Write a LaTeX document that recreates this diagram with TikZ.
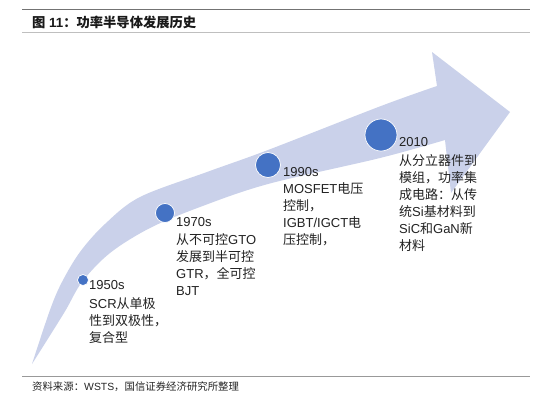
\documentclass[tikz,border=0pt]{standalone}
\usepackage{fontspec}
\setmainfont{Liberation Sans}
\newfontfamily\cjk{Noto Sans CJK SC}
\newcommand\zh[1]{{\cjk #1}}
\definecolor{bandc}{RGB}{202,209,234}
\definecolor{dotc}{RGB}{68,114,196}
\definecolor{txt}{RGB}{34,34,34}
\begin{document}
\begin{tikzpicture}[x=1pt,y=-1pt,
  dotn/.style={circle,fill=dotc,draw=white,line width=0.7pt,inner sep=0pt},
  desc/.style={anchor=north west,align=left,inner sep=0pt,text=txt,font=\fontsize{13}{17}\selectfont},
  rulel/.style={line width=0.8pt}]
\useasboundingbox (0,0) rectangle (550,400);
\fill[white] (0,0) rectangle (550,400);
% header
\coordinate (h1) at (22,9); \coordinate (h2) at (530,9);
\coordinate (h3) at (22,32); \coordinate (h4) at (530,32);
\draw[rulel,color=black!55] (h1) -- (h2);
\draw[rulel,color=black!25] (h3) -- (h4);
\node[anchor=west,inner sep=0pt,text=black!90,font=\fontsize{13.3}{15}\selectfont\bfseries] (title) at (32,22.5) {\zh{图} 11\zh{：功率半导体发展历史}};
% band arrow
\fill[bandc] plot[smooth,tension=0.55] coordinates {(32,364) (50,310) (62,282) (80,252) (105,224) (140,197) (207,172) (268,150) (381,106) (437,86)}
  -- (432,52) -- (510,112) -- (451,193) -- (445,140)
  -- plot[smooth,tension=0.55] coordinates {(445,140) (380,158) (268,184) (200,207) (150,228) (110,253) (82,282) (64,313) (32,364)} -- cycle;
% dots
\node[dotn,minimum size=11pt] (d1) at (83,280) {};
\node[dotn,minimum size=19pt] (d2) at (165,213) {};
\node[dotn,minimum size=25pt] (d3) at (268,165) {};
\node[dotn,minimum size=32pt] (d4) at (381,135) {};
% texts
\node[desc] (t1) at (89,280.4) {1950s\\[1.5pt] SCR\zh{从单极}\\ \zh{性到双极性，}\\ \zh{复合型}};
\node[desc] (t2) at (176,217.4) {1970s\\[1pt] \zh{从不可控}GTO\\ \zh{发展到半可控}\\ GTR\zh{，全可控}\\ BJT};
\node[desc] (t3) at (283,167.4) {1990s\\ MOSFET\zh{电压}\\ \zh{控制，}\\ IGBT/IGCT\zh{电}\\ \zh{压控制，}};
\node[desc] (t4) at (399,137.4) {2010\\[2pt] \zh{从分立器件到}\\ \zh{模组，功率集}\\ \zh{成电路：从传}\\ \zh{统}Si\zh{基材料到}\\ SiC\zh{和}GaN\zh{新}\\ \zh{材料}};
% footer
\coordinate (f1) at (22,376); \coordinate (f2) at (530,376);
\draw[rulel,color=black!40] (f1) -- (f2);
\node[anchor=west,inner sep=0pt,text=black!85,font=\fontsize{10.4}{12}\selectfont] (src) at (32,387) {\zh{资料来源：}WSTS\zh{，国信证券经济研究所整理}};
\end{tikzpicture}
\end{document}
